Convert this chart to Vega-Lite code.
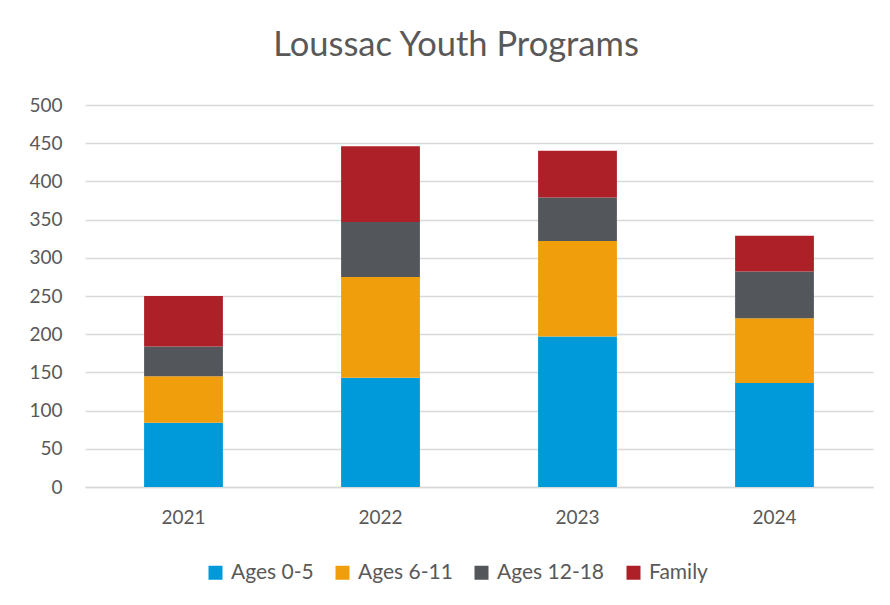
{
  "$schema": "https://vega.github.io/schema/vega-lite/v6.json",
  "autosize": "none",
  "width": 788,
  "height": 382,
  "padding": {"left": 85, "top": 105, "right": 17, "bottom": 118},
  "background": "white",
  "title": {
    "text": "Loussac Youth Programs",
    "fontSize": 34.5,
    "font": "Lato",
    "fontWeight": "normal",
    "color": "#595959",
    "anchor": "middle",
    "frame": "group",
    "dx": -23,
    "offset": 33
  },
  "data": {
    "values": [
      {"year": "2021", "group": "Ages 0-5", "k": 1, "value": 84},
      {"year": "2021", "group": "Ages 6-11", "k": 2, "value": 61},
      {"year": "2021", "group": "Ages 12-18", "k": 3, "value": 39},
      {"year": "2021", "group": "Family", "k": 4, "value": 66},
      {"year": "2022", "group": "Ages 0-5", "k": 1, "value": 143},
      {"year": "2022", "group": "Ages 6-11", "k": 2, "value": 132},
      {"year": "2022", "group": "Ages 12-18", "k": 3, "value": 72},
      {"year": "2022", "group": "Family", "k": 4, "value": 99},
      {"year": "2023", "group": "Ages 0-5", "k": 1, "value": 197},
      {"year": "2023", "group": "Ages 6-11", "k": 2, "value": 125},
      {"year": "2023", "group": "Ages 12-18", "k": 3, "value": 57},
      {"year": "2023", "group": "Family", "k": 4, "value": 61},
      {"year": "2024", "group": "Ages 0-5", "k": 1, "value": 136},
      {"year": "2024", "group": "Ages 6-11", "k": 2, "value": 85},
      {"year": "2024", "group": "Ages 12-18", "k": 3, "value": 61},
      {"year": "2024", "group": "Family", "k": 4, "value": 47}
    ]
  },
  "mark": {"type": "bar"},
  "encoding": {
    "x": {
      "field": "year",
      "type": "nominal",
      "scale": {"paddingInner": 0.6, "paddingOuter": 0.3},
      "axis": {
        "title": null,
        "labelAngle": 0,
        "labelFont": "Lato",
        "labelFontSize": 19,
        "labelColor": "#595959",
        "labelPadding": 21,
        "ticks": false,
        "domainColor": "#D9D9D9",
        "domainWidth": 1.3
      }
    },
    "y": {
      "field": "value",
      "type": "quantitative",
      "stack": "zero",
      "scale": {"domain": [0, 500]},
      "axis": {
        "title": null,
        "values": [0, 50, 100, 150, 200, 250, 300, 350, 400, 450, 500],
        "labelFont": "Lato",
        "labelFontSize": 19,
        "labelColor": "#595959",
        "labelPadding": 23,
        "ticks": false,
        "domain": false,
        "gridColor": "#D9D9D9",
        "gridWidth": 1.3
      }
    },
    "order": {"field": "k", "type": "quantitative", "sort": "ascending"},
    "color": {
      "field": "group",
      "type": "nominal",
      "sort": ["Ages 0-5", "Ages 6-11", "Ages 12-18", "Family"],
      "scale": {
        "domain": ["Ages 0-5", "Ages 6-11", "Ages 12-18", "Family"],
        "range": ["#009ADA", "#F09E0C", "#53565B", "#AE2028"]
      },
      "legend": {
        "title": null,
        "orient": "none",
        "direction": "horizontal",
        "legendX": 120,
        "legendY": 457,
        "symbolType": "square",
        "symbolSize": 196,
        "symbolStrokeWidth": 0,
        "labelFont": "Lato",
        "labelFontSize": 21,
        "labelColor": "#595959",
        "labelOffset": 5,
        "columnPadding": 18
      }
    }
  },
  "config": {
    "view": {"stroke": null}
  }
}
